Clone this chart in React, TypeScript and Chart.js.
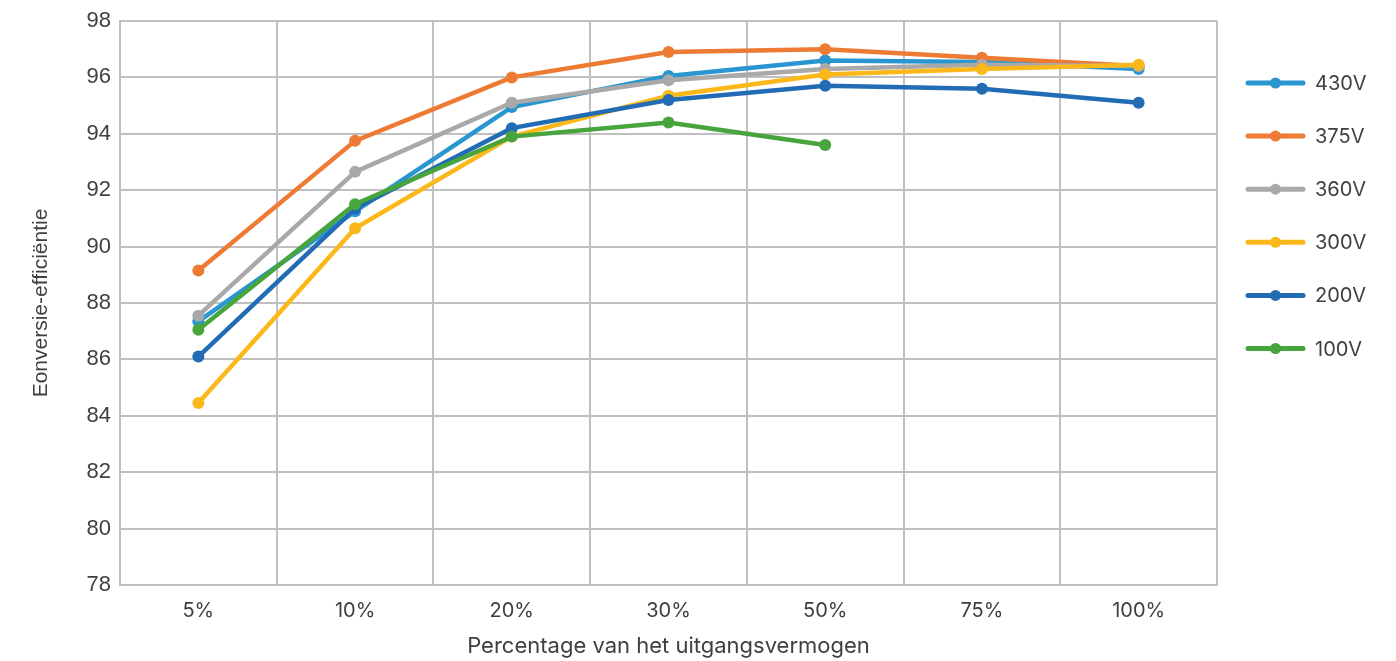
import React, { useEffect, useRef } from "react";
import { Chart, registerables } from "chart.js";

Chart.register(...registerables);

const categories = ["5%", "10%", "20%", "30%", "50%", "75%", "100%"];
const seriesNames = ["430V", "375V", "360V", "300V", "200V", "100V"];
const seriesColors = ["#2A96CF", "#EE7B34", "#A9A9A9", "#FBB81A", "#226CB5", "#48A43D"];
const v430 = [87.35, 91.25, 94.95, 96.05, 96.6, 96.55, 96.3];
const v375 = [89.15, 93.75, 96.0, 96.9, 97.0, 96.7, 96.4];
const v360 = [87.55, 92.65, 95.1, 95.9, 96.3, 96.45, 96.4];
const v300 = [84.45, 90.65, 93.9, 95.35, 96.1, 96.3, 96.45];
const v200 = [86.1, 91.35, 94.2, 95.2, 95.7, 95.6, 95.1];
const v100 = [87.05, 91.5, 93.9, 94.4, 93.6, null, null];
const seriesValues = [v430, v375, v360, v300, v200, v100];
const yMin = 78;
const yMax = 98;
const yStep = 2;
const xTitle = "Percentage van het uitgangsvermogen";
const yTitle = "Eonversie-efficiëntie";

const GRID = "#C0C0C0";
const TEXT = "#404040";
const XFONT = "Inter, 'Open Sans', sans-serif";
const YFONT = "'Liberation Sans', Arial, sans-serif";

const legendPlugin = {
  id: "sideLegend",
  afterDraw(chart: any) {
    const { ctx, chartArea } = chart;
    ctx.save();
    const x0 = chartArea.right + 31;
    const x1 = x0 + 55;
    const tx = x1 + 12;
    const y0 = chartArea.top + 62;
    const gap = 53.1;
    seriesNames.forEach((name, i) => {
      const y = y0 + i * gap;
      ctx.strokeStyle = seriesColors[i];
      ctx.lineWidth = 5;
      ctx.lineCap = "round";
      ctx.beginPath();
      ctx.moveTo(x0, y);
      ctx.lineTo(x1, y);
      ctx.stroke();
      ctx.fillStyle = seriesColors[i];
      ctx.beginPath();
      ctx.arc((x0 + x1) / 2, y, 5.5, 0, Math.PI * 2);
      ctx.fill();
      ctx.fillStyle = TEXT;
      ctx.font = `20px ${XFONT}`;
      ctx.textBaseline = "middle";
      ctx.textAlign = "left";
      ctx.fillText(name, tx, y + 1);
    });
    ctx.restore();
  },
};

export default function App() {
  const ref = useRef<HTMLCanvasElement>(null);
  useEffect(() => {
    if (!ref.current) return;
    const chart = new Chart(ref.current, {
      type: "line",
      data: {
        labels: categories,
        datasets: seriesNames.map((name, i) => ({
          label: name,
          data: seriesValues[i],
          borderColor: seriesColors[i],
          backgroundColor: seriesColors[i],
          borderWidth: 4.5,
          pointRadius: 6,
          pointHoverRadius: 6,
          pointBorderWidth: 0,
          tension: 0,
          spanGaps: false,
          order: seriesNames.length - i,
        })),
      },
      options: {
        animation: false,
        responsive: true,
        maintainAspectRatio: false,
        layout: { padding: { left: 0, top: 13, right: 171, bottom: 0 } },
        plugins: { legend: { display: false }, tooltip: { enabled: false } },
        scales: {
          x: {
            offset: true,
            grid: { offset: true, color: GRID, lineWidth: 2, drawTicks: false },
            border: { color: GRID, width: 2 },
            ticks: { color: TEXT, font: { family: XFONT, size: 20 }, padding: 14 },
            title: {
              display: true,
              text: xTitle,
              color: TEXT,
              font: { family: XFONT, size: 22 },
              padding: { top: 0, bottom: 1 },
            },
            afterFit(scale: any) {
              scale.height = 76;
              scale.paddingLeft = 0;
              scale.paddingRight = 0;
            },
          },
          y: {
            min: yMin,
            max: yMax,
            ticks: {
              stepSize: yStep,
              color: TEXT,
              font: { family: YFONT, size: 22 },
              padding: 9,
            },
            grid: { color: GRID, lineWidth: 2, drawTicks: false },
            border: { color: GRID, width: 2 },
            title: {
              display: true,
              text: yTitle,
              color: TEXT,
              font: { family: YFONT, size: 21 },
              padding: { top: 21, bottom: 0 },
            },
            afterFit(scale: any) {
              scale.width = 112;
              scale.paddingTop = 0;
              scale.paddingBottom = 0;
            },
          },
        },
      },
      plugins: [legendPlugin],
    });
    return () => chart.destroy();
  }, []);
  return (
    <div style={{ width: 1380, height: 653, position: "relative" }}>
      <canvas ref={ref} />
    </div>
  );
}
